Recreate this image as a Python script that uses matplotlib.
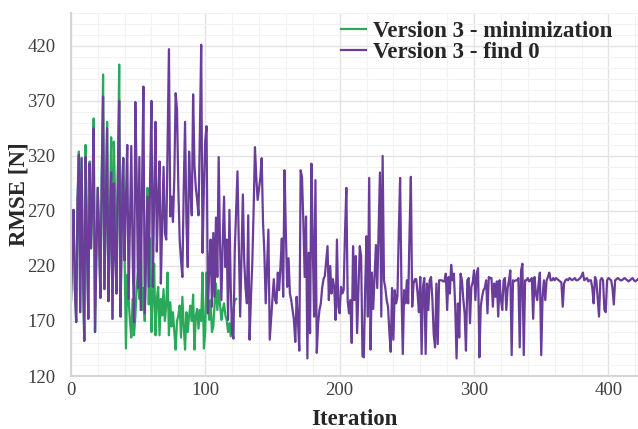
import matplotlib
matplotlib.use("Agg")
import matplotlib.pyplot as plt
from matplotlib.ticker import MultipleLocator

plt.rcParams['font.family'] = ['Liberation Serif', 'DejaVu Serif']

# RMSE per iteration
find0 = [
    183, 230, 271, 200, 169, 280, 321, 178, 318, 220,   # 0
    152, 319, 240, 172, 313, 236, 280, 345, 160, 230,   # 10
    291, 250, 191, 300, 374, 199, 270, 345, 188, 250,   # 20
    305, 172, 295, 230, 195, 300, 370, 174, 260, 318,   # 30
    225, 280, 330, 190, 260, 329, 230, 169, 369, 300,   # 40
    200, 319, 180, 290, 383, 177, 230, 283, 201, 300,   # 50
    370, 201, 280, 351, 233, 280, 315, 204, 260, 310,   # 60
    250, 244, 330, 417, 265, 283, 260, 300, 377, 362,   # 70
    290, 244, 225, 210, 290, 351, 260, 219, 324, 290,   # 80
    266, 376, 311, 291, 280, 266, 340, 421, 232, 290,   # 90
    334, 347, 177, 220, 244, 183, 250, 192, 264, 210,   # 100
    319, 240, 189, 240, 283, 219, 244, 171, 271, 200,   # 110
    159, 154, 235, 270, 306, 240, 174, 230, 285, 225,   # 120
    200, 186, 266, 153, 190, 222, 270, 328, 300, 280,   # 130
    290, 300, 318, 260, 232, 186, 220, 253, 153, 171,   # 140
    190, 208, 189, 186, 214, 198, 220, 245, 192, 307,   # 150
    250, 201, 227, 195, 189, 180, 171, 151, 192, 170,   # 160
    143, 307, 301, 260, 210, 265, 136, 232, 159, 313,   # 170
    240, 174, 298, 141, 168, 180, 186, 200, 208, 211,   # 180
    225, 238, 189, 220, 195, 208, 200, 171, 244, 183,   # 190
    177, 201, 195, 198, 250, 291, 188, 177, 189, 150,   # 200
    238, 189, 229, 159, 200, 238, 229, 138, 137, 200,   # 210
    247, 174, 300, 144, 214, 181, 210, 239, 200, 251,   # 220
    305, 174, 320, 207, 200, 189, 183, 160, 142, 200,   # 230
    153, 198, 186, 192, 250, 300, 200, 140, 198, 186,   # 240
    207, 186, 250, 301, 183, 204, 208, 208, 195, 178,   # 250
    210, 140, 201, 209, 140, 204, 180, 207, 210, 190,   # 260
    158, 146, 204, 149, 207, 207, 207, 206, 206, 213,   # 270
    180, 210, 195, 221, 207, 213, 183, 136, 186, 155,   # 280
    213, 207, 190, 177, 143, 207, 209, 168, 201, 205,   # 290
    216, 189, 213, 218, 137, 183, 192, 198, 200, 207,   # 300
    177, 210, 209, 209, 183, 204, 192, 206, 174, 207,   # 310
    190, 180, 207, 209, 180, 200, 207, 216, 139, 207,   # 320
    206, 207, 207, 209, 146, 216, 222, 139, 207, 207,   # 330
    209, 206, 207, 209, 172, 210, 195, 189, 204, 214,   # 340
    139, 192, 207, 189, 207, 210, 214, 207, 207, 209,   # 350
    207, 209, 208, 207, 206, 205, 183, 204, 207, 208,   # 360
    207, 209, 208, 207, 208, 209, 207, 207, 208, 209,   # 370
    211, 214, 207, 208, 209, 206, 207, 207, 200, 186,   # 380
    210, 207, 190, 174, 207, 209, 207, 180, 178, 207,   # 390
    209, 208, 207, 200, 185, 207, 208, 209, 208, 207,   # 400
    207, 208, 209, 208, 207, 206, 207, 208, 209, 207,   # 410
    206, 207, 208,                                      # 420
]

minimization = [
    183, 230, 271, 200, 169, 280, 324, 178, 318, 220,   # 0
    152, 330, 240, 172, 315, 236, 280, 354, 160, 230,   # 10
    291, 250, 191, 300, 394, 199, 270, 351, 188, 260,   # 20
    337, 172, 333, 280, 195, 300, 403, 174, 290, 318,   # 30
    230, 145, 212, 190, 170, 155, 190, 157, 174, 200,   # 40
    214, 190, 248, 180, 200, 170, 230, 291, 185, 245,   # 50
    160, 190, 222, 157, 190, 201, 157, 190, 175, 199,   # 60
    170, 185, 214, 157, 187, 165, 178, 160, 144, 170,   # 70
    175, 184, 155, 192, 166, 144, 178, 160, 175, 184,   # 80
    170, 194, 144, 175, 181, 163, 180, 170, 214, 145,   # 90
    160, 214, 183, 171, 189, 160, 165, 185, 204, 180,   # 100
    198, 185, 171, 180, 186, 175, 171, 160, 168, 156,   # 110
    174, 180, 189, 190,                                 # 120
]

series_names = ["Version 3 - minimization", "Version 3 - find 0"]
series_colors = ["#2aa95a", "#6a3d9a"]

fig = plt.figure(figsize=(6.38, 4.29), dpi=100)
ax = fig.add_axes([0.111, 0.1235, 0.889, 0.8465])

ax.plot(range(len(minimization)), minimization, color=series_colors[0],
        lw=1.6, label=series_names[0])
ax.plot(range(len(find0)), find0, color=series_colors[1],
        lw=1.6, label=series_names[1])

ax.set_xlim(0, len(find0) - 1)
ax.set_ylim(120, 450)
ax.xaxis.set_major_locator(MultipleLocator(100))
ax.xaxis.set_minor_locator(MultipleLocator(20))
ax.set_yticks([120, 170, 220, 270, 320, 370, 420])
ax.yaxis.set_minor_locator(MultipleLocator(10))

ax.grid(which='major', color='#e3e3e3', lw=1.0)
ax.grid(which='minor', color='#f2f2f2', lw=0.8)
ax.set_axisbelow(True)

for s in ['top', 'right']:
    ax.spines[s].set_visible(False)
for s in ['left', 'bottom']:
    ax.spines[s].set_color('#d6d6d6')
    ax.spines[s].set_linewidth(1.5)

ax.tick_params(which='both', length=0, labelsize=13.5, colors='#404040')
ax.tick_params(axis='y', pad=11)
ax.tick_params(axis='x', pad=4)
ax.set_xlabel("Iteration", fontsize=16.5, fontweight='bold', color='#262626')
ax.set_ylabel("RMSE [N]", fontsize=16.5, fontweight='bold', color='#262626')
ax.xaxis.set_label_coords(0.5, -0.09)
ax.yaxis.set_label_coords(-0.072, 0.5)

leg = ax.legend(loc='upper right', frameon=False, handlelength=1.1,
                handletextpad=0.3, labelspacing=0.0, borderaxespad=0.1,
                bbox_to_anchor=(0.975, 1.009),
                prop={'weight': 'bold', 'size': 16.5})
for t in leg.get_texts():
    t.set_color('#262626')

fig.savefig("out.png", dpi=100)
